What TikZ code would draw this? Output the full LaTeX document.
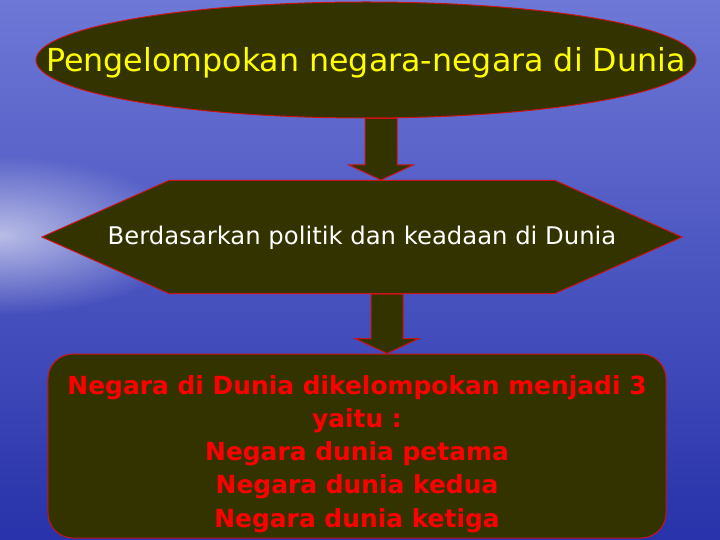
\documentclass[tikz,border=0pt]{standalone}
\usepackage{fontspec}
\setmainfont{DejaVu Sans}
\usetikzlibrary{shapes.geometric,shapes.symbols,calc,fadings}
\definecolor{isian}{RGB}{51,51,0}
\definecolor{garis}{RGB}{200,20,20}
\definecolor{kuning}{RGB}{255,255,0}
\definecolor{merah}{RGB}{255,0,0}
\definecolor{langit}{RGB}{110,120,214}
\definecolor{cakrawala}{RGB}{80,90,200}
\definecolor{laut}{RGB}{40,50,170}
\tikzfading[name=pendar, inner color=transparent!0, outer color=transparent!100]

% panah blok: #1 atas, #2 bawah, #3 geser x
\newcommand{\panahblok}[3]{%
  \draw[panah] ($(#1)+(#3-16,0)$) -- ($(#1)+(#3+16,0)$)
    -- ($(#1 |- #2)+(#3+16,-15)$) -- ($(#1 |- #2)+(#3+32,-15)$)
    -- ($(#1 |- #2)+(#3,0)$) -- ($(#1 |- #2)+(#3-32,-15)$)
    -- ($(#1 |- #2)+(#3-16,-15)$) -- cycle;}

\begin{document}
\begin{tikzpicture}[x=1bp, y=-1bp,
    kotak/.style={fill=isian, draw=garis, line width=1bp, inner sep=0pt},
    panah/.style={fill=isian, draw=garis, line width=1bp}]
    \useasboundingbox (0,0) rectangle (720,540);
    % Latar belakang
    \begin{scope}
        \clip (0,0) rectangle (720,540);
        \shade[top color=langit, middle color=cakrawala, bottom color=laut] (0,0) rectangle (720,540);
        \fill[white, path fading=pendar, opacity=0.6] (0,235) ellipse (190 and 80);
    \end{scope}

    % Elips judul
    \node[kotak, ellipse, minimum width=660bp, minimum height=116bp] (judul) at (366,60) {};
    \node[text=kuning, font=\fontsize{31.8}{36}\selectfont] (judulteks) at ([yshift=-3]judul.center)
        {Pengelompokan negara-negara di Dunia};

    % Segi enam dasar
    \node[kotak, signal, signal to=west and east, signal pointer angle=48,
        minimum width=640bp, minimum height=113bp] (dasar) at (362,237) {};
    \node[text=white, font=\fontsize{24.4}{28}\selectfont] (dasarteks) at ([yshift=-1]dasar.center)
        {Berdasarkan politik dan keadaan di Dunia};

    % Kotak hasil
    \node[kotak, rounded corners=25bp, minimum width=618bp, minimum height=184bp] (hasil) at (357,446) {};
    \node[text=merah, align=center, font=\bfseries\fontsize{25}{33.3}\selectfont] (hasilteks)
        at ([yshift=-8]hasil.center)
        {Negara di Dunia dikelompokan menjadi 3\\ yaitu :\\ Negara dunia petama\\
         Negara dunia kedua\\ Negara dunia ketiga};

    % Panah
    \panahblok{judul.south}{dasar.north}{15}
    \panahblok{dasar.south}{hasil.north}{25}
\end{tikzpicture}
\end{document}
